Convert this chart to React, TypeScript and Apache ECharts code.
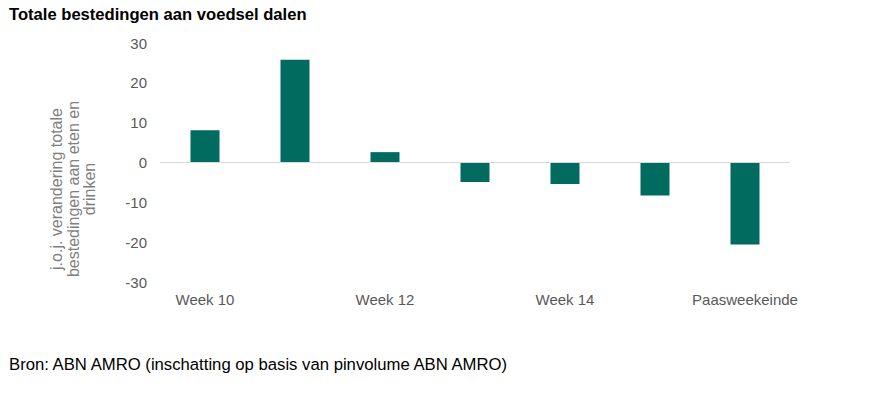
import React, { useEffect, useRef } from "react";
import * as echarts from "echarts";

const categories = ["Week 10", "Week 11", "Week 12", "Week 13", "Week 14", "Week 15", "Paasweekeinde"];
const values = [8.1, 25.8, 2.6, -4.9, -5.4, -8.3, -20.6];
const titleText = "Totale bestedingen aan voedsel dalen";
const yAxisTitle = "j.o.j. verandering totale\nbestedingen aan eten en\ndrinken";
const sourceText = "Bron: ABN AMRO (inschatting op basis van pinvolume ABN AMRO)";

const FONT = "'Liberation Sans', Arial, sans-serif";

export default function App() {
  const ref = useRef<HTMLDivElement>(null);
  useEffect(() => {
    if (!ref.current) return;
    const chart = echarts.init(ref.current, null, { renderer: "svg" });
    chart.setOption({
      animation: false,
      backgroundColor: "#ffffff",
      grid: { left: 160, right: 97, top: 43, bottom: 114, containLabel: false },
      xAxis: {
        type: "category",
        data: categories,
        position: "bottom",
        axisLine: { show: false, onZero: false },
        axisTick: { show: false },
        axisLabel: { interval: 1, color: "#595959", fontSize: 15, fontFamily: FONT, margin: 10 },
      },
      yAxis: {
        type: "value",
        min: -30,
        max: 30,
        interval: 10,
        axisLine: { show: false },
        axisTick: { show: false },
        splitLine: { show: false },
        axisLabel: { color: "#595959", fontSize: 15, fontFamily: FONT, margin: 13 },
      },
      series: [
        {
          type: "bar",
          data: values,
          barWidth: 29,
          itemStyle: { color: "#006B5E" },
          markLine: {
            silent: true,
            symbol: "none",
            label: { show: false },
            lineStyle: { color: "#d9d9d9", width: 1, type: "solid" },
            data: [{ yAxis: 0 }],
          },
          z: 3,
        },
      ],
      graphic: [
        {
          type: "text",
          left: 9,
          top: 6,
          style: { text: titleText, font: `bold 16.6px ${FONT}`, fill: "#000000" },
        },
        {
          type: "text",
          x: 73,
          y: 189,
          rotation: Math.PI / 2,
          style: {
            text: yAxisTitle,
            font: `16px ${FONT}`,
            fill: "#7f7f7f",
            align: "center",
            verticalAlign: "middle",
            lineHeight: 16.5,
          },
        },
        {
          type: "text",
          left: 9,
          top: 356,
          style: { text: sourceText, font: `16.7px ${FONT}`, fill: "#000000" },
        },
      ],
    });
    return () => chart.dispose();
  }, []);
  return (
    <div
      ref={ref}
      style={{ position: "fixed", left: 0, top: 0, width: 887, height: 396 }}
    />
  );
}
